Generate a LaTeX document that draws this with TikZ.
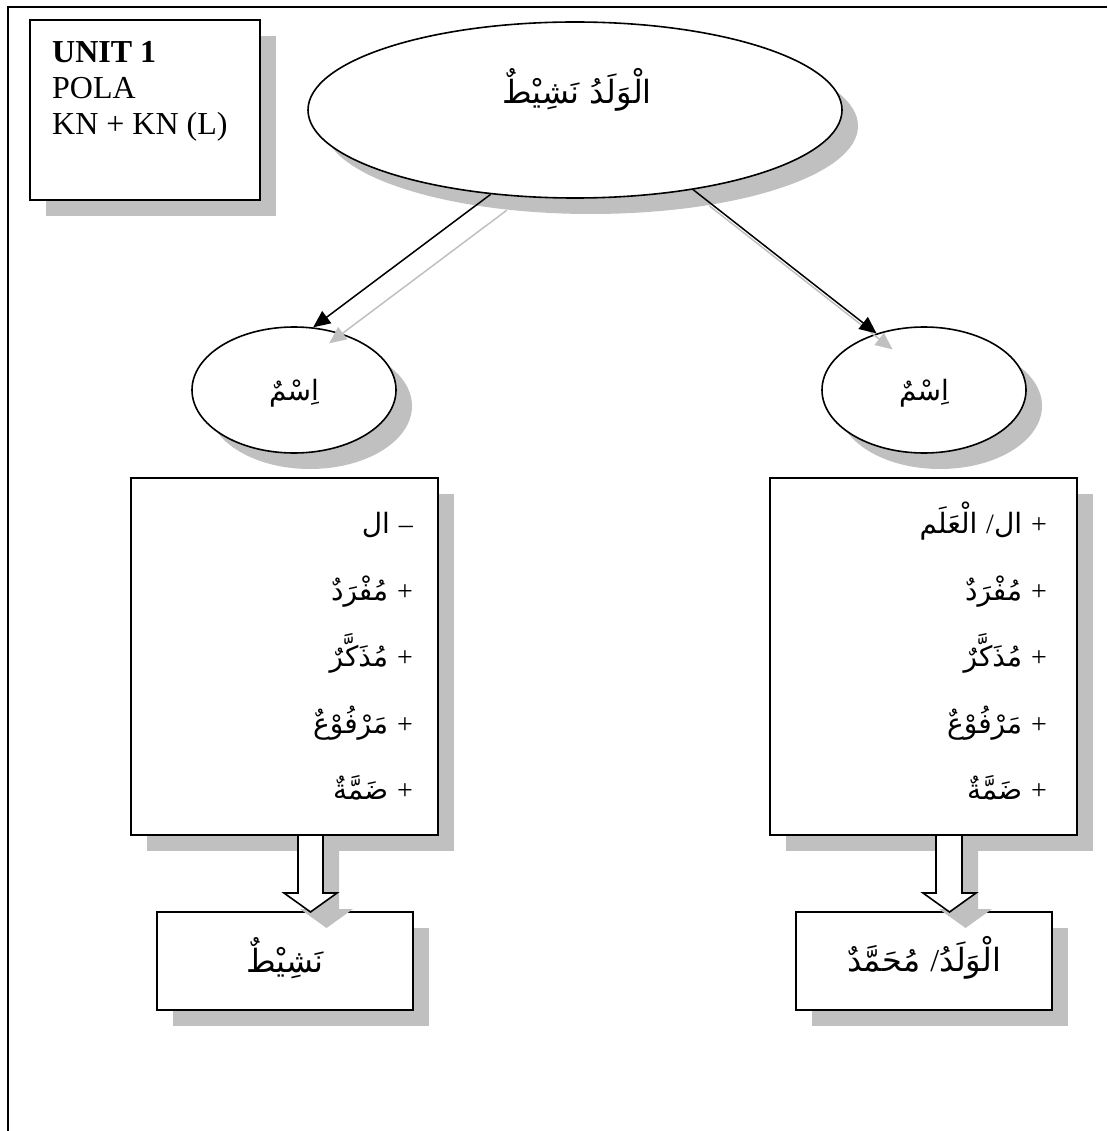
\documentclass[tikz,border=0pt]{standalone}
\usepackage{fontspec}
\setmainfont{Liberation Serif}
\newfontfamily\arabicfont[Script=Arabic]{DejaVu Sans}
\TeXXeTstate=1
\usetikzlibrary{arrows.meta,shapes.geometric,shadows}
\definecolor{shd}{RGB}{192,192,192}
\newcommand\latn[1]{{\rmfamily #1}}
\begin{document}
\begin{tikzpicture}[x=1pt,y=-1pt,
  shad/.style={drop shadow={shadow xshift=16pt,shadow yshift=-16pt,fill=shd,opacity=1}},
  bx/.style={rectangle,draw,line width=1.6pt,fill=white,shad,inner sep=0pt},
  ell/.style={ellipse,draw,line width=1.6pt,fill=white,shad,inner sep=0pt},
  ar/.style={font=\arabicfont\fontsize{28}{34}\selectfont,inner sep=0pt},
  arbig/.style={font=\arabicfont\fontsize{32}{38}\selectfont,inner sep=0pt},
  lat/.style={font=\fontsize{32}{38}\selectfont,inner sep=0pt,anchor=base west},
  arr/.style={line width=1.5pt,-{Triangle[length=17pt,width=15pt]}},
  sharr/.style={draw=shd,line width=1.5pt,-{Triangle[length=17pt,width=15pt,fill=shd]},transform canvas={xshift=16pt,yshift=-16pt}},
  blk/.style={draw,line width=1.6pt,fill=white,line join=miter}
]
\useasboundingbox (0,0) rectangle (1107,1131);
% frame
\draw[line width=2pt] (1107,7) -- (8,7) -- (8,1131);

% unit box
\node[bx,minimum width=230pt,minimum height=180pt] (unit) at (145,110) {};
\node[lat,font=\bfseries\fontsize{32}{38}\selectfont] (u1) at (52,63) {UNIT 1};
\node[lat] (u2) at (52,99) {POLA};
\node[lat] (u3) at (52,135) {KN + KN (L)};

% main ellipse
\node[ell,minimum width=534pt,minimum height=176pt] (main) at (575,110) {};
\node[arbig] (maint) at (577,90) {\beginR الْوَلَدُ نَشِيْطٌ\endR};

% small ellipses
\node[ell,minimum width=204pt,minimum height=126pt] (lell) at (294,390) {};
\node[ar] (lellt) at (294,393) {\beginR اِسْمٌ\endR};
\node[ell,minimum width=204pt,minimum height=126pt] (rell) at (924,390) {};
\node[ar] (rellt) at (924,393) {\beginR اِسْمٌ\endR};

% upper boxes
\node[bx,minimum width=307pt,minimum height=357pt] (lbox) at (284.5,656.5) {};
\node[bx,minimum width=307pt,minimum height=357pt] (rbox) at (923.5,656.5) {};

\node[ar,anchor=base east] (l1) at (413,533) {\beginR\latn{–} ال\endR};
\node[ar,anchor=base east] (l2) at (413,600) {\beginR\latn{+} مُفْرَدٌ\endR};
\node[ar,anchor=base east] (l3) at (413,666) {\beginR\latn{+} مُذَكَّرٌ\endR};
\node[ar,anchor=base east] (l4) at (413,733) {\beginR\latn{+} مَرْفُوْعٌ\endR};
\node[ar,anchor=base east] (l5) at (413,799) {\beginR\latn{+} ضَمَّةٌ\endR};

\node[ar,anchor=base east] (r1) at (1047,533) {\beginR\latn{+} ال\latn{/} الْعَلَم\endR};
\node[ar,anchor=base east] (r2) at (1047,600) {\beginR\latn{+} مُفْرَدٌ\endR};
\node[ar,anchor=base east] (r3) at (1047,666) {\beginR\latn{+} مُذَكَّرٌ\endR};
\node[ar,anchor=base east] (r4) at (1047,733) {\beginR\latn{+} مَرْفُوْعٌ\endR};
\node[ar,anchor=base east] (r5) at (1047,799) {\beginR\latn{+} ضَمَّةٌ\endR};

% lower boxes
\node[bx,minimum width=256pt,minimum height=98pt] (lres) at (285,961) {};
\node[arbig] (lrest) at (285,958) {\beginR نَشِيْطٌ\endR};
\node[bx,minimum width=256pt,minimum height=98pt] (rres) at (924,961) {};
\node[arbig] (rrest) at (924,958) {\beginR الْوَلَدُ\latn{/} مُحَمَّدٌ\endR};

% block arrows (shadow then arrow)
\begin{scope}[shift={(16,16)}]
\fill[shd] (298,835) -- (298,893) -- (284,893) -- (310.5,912) -- (337,893) -- (323,893) -- (323,835) -- cycle;
\fill[shd] (936,835) -- (936,893) -- (923,893) -- (949.5,912) -- (976,893) -- (962,893) -- (962,835) -- cycle;
\end{scope}
\draw[blk] (298,835) -- (298,893) -- (284,893) -- (310.5,912) -- (337,893) -- (323,893) -- (323,835) -- cycle;
\draw[blk] (936,835) -- (936,893) -- (923,893) -- (949.5,912) -- (976,893) -- (962,893) -- (962,835) -- cycle;

% connectors
\draw[sharr] (main.225) -- (lell.73);
\draw[sharr] (main.326) -- (rell.130);
\draw[arr] (main.225) -- (lell.73);
\draw[arr] (main.326) -- (rell.130);
\end{tikzpicture}
\end{document}
